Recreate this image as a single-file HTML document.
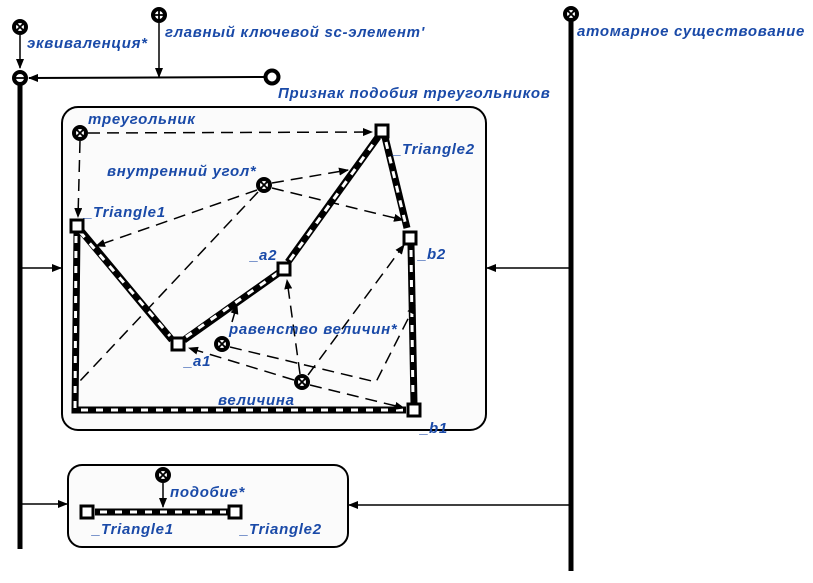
<!DOCTYPE html>
<html><head><meta charset="utf-8"><style>
html,body{margin:0;padding:0;background:#fff}
svg{display:block}
text{font-family:"Liberation Sans",sans-serif;font-style:italic;font-weight:bold;font-size:15px;letter-spacing:0.7px;fill:#1a4aa8}
</style></head><body>
<svg width="813" height="583" viewBox="0 0 813 583" xmlns="http://www.w3.org/2000/svg">
<defs>
<marker id="a" markerWidth="10" markerHeight="8" refX="9" refY="4" orient="auto" markerUnits="userSpaceOnUse"><path d="M0,0L10,4L0,8z" fill="#000"/></marker>
</defs>
<rect x="62" y="107" width="424" height="323" rx="16" fill="#fbfbfb" stroke="#000" stroke-width="2"/>
<rect x="68" y="465" width="280" height="82" rx="14" fill="#fbfbfb" stroke="#000" stroke-width="2"/>
<line x1="20" y1="85" x2="20" y2="549" stroke="#000" stroke-width="5"/>
<line x1="571" y1="20" x2="571" y2="571" stroke="#000" stroke-width="5"/>
<line x1="20" y1="35" x2="20" y2="68" stroke="#000" stroke-width="1.5" marker-end="url(#a)"/>
<line x1="264" y1="77" x2="29" y2="78" stroke="#000" stroke-width="2" marker-end="url(#a)"/>
<line x1="159" y1="23" x2="159" y2="77" stroke="#000" stroke-width="1.5" marker-end="url(#a)"/>
<line x1="22" y1="268" x2="61" y2="268" stroke="#000" stroke-width="1.5" marker-end="url(#a)"/>
<line x1="569" y1="268" x2="487" y2="268" stroke="#000" stroke-width="1.5" marker-end="url(#a)"/>
<line x1="22" y1="504" x2="67" y2="504" stroke="#000" stroke-width="1.5" marker-end="url(#a)"/>
<line x1="569" y1="505" x2="349" y2="505" stroke="#000" stroke-width="1.5" marker-end="url(#a)"/>
<g fill="none" stroke-linecap="butt" stroke-linejoin="miter">
<g stroke="#000" stroke-width="7">
<path d="M77,226 L172,340"/><path d="M184,340 L280,272"/><path d="M288,262 L378,137"/>
<path d="M385,137 L407,228"/><path d="M411,245 L414,404"/><path d="M77,232 L75,410 L406,410"/>
<path d="M95,512 L228,512"/>
</g>
<g stroke="#fff" stroke-width="3" stroke-dasharray="7,8">
<path d="M80,232 L170,336"/><path d="M186,337 L278,273"/><path d="M290,260 L376,140"/>
<path d="M386,142 L406,226"/><path d="M411,250 L413,400"/><path d="M76,236 L75,410 L404,410"/>
<path d="M100,512 L226,512"/>
</g>
</g>
<g fill="none" stroke="#000" stroke-width="1.5" stroke-dasharray="12,7">
<line x1="88" y1="133" x2="372" y2="132" marker-end="url(#a)"/>
<line x1="80" y1="141" x2="78" y2="217" marker-end="url(#a)"/>
<line x1="272" y1="183" x2="348" y2="170" marker-end="url(#a)"/>
<line x1="272" y1="188" x2="403" y2="220" marker-end="url(#a)"/>
<line x1="257" y1="190" x2="96" y2="246" marker-end="url(#a)"/>
<line x1="258" y1="192" x2="80" y2="381"/>
<polyline points="230,347 376,382 415,305" marker-end="url(#a)"/>
<line x1="232" y1="322" x2="237" y2="305" marker-end="url(#a)"/>
<line x1="300" y1="374" x2="287" y2="280" marker-end="url(#a)"/>
<line x1="294" y1="380" x2="189" y2="348" marker-end="url(#a)"/>
<line x1="310" y1="385" x2="404" y2="408" marker-end="url(#a)"/>
<line x1="308" y1="375" x2="404" y2="245" marker-end="url(#a)"/>
</g>
<line x1="163" y1="483" x2="163" y2="507" stroke="#000" stroke-width="1.5" marker-end="url(#a)"/>
<g fill="#fff" stroke="#000" stroke-width="3">
<rect x="71" y="220" width="12" height="12"/><rect x="376" y="125" width="12" height="12"/>
<rect x="404" y="232" width="12" height="12"/><rect x="278" y="263" width="12" height="12"/>
<rect x="172" y="338" width="12" height="12"/><rect x="408" y="404" width="12" height="12"/>
<rect x="81" y="506" width="12" height="12"/><rect x="229" y="506" width="12" height="12"/>
</g>
<g fill="#fff" stroke="#000" stroke-width="4">
<circle cx="20" cy="27" r="6"/><circle cx="159" cy="15" r="6"/><circle cx="20" cy="78" r="6"/>
<circle cx="272" cy="77" r="6.5"/><circle cx="571" cy="14" r="6"/>
<circle cx="80" cy="133" r="6"/><circle cx="264" cy="185" r="6"/><circle cx="222" cy="344" r="6"/>
<circle cx="302" cy="382" r="6"/><circle cx="163" cy="475" r="6"/>
</g>
<g stroke="#000" stroke-width="1.8">
<path d="M16,23l8,8M24,23l-8,8"/><path d="M567,10l8,8M575,10l-8,8"/>
<path d="M76,129l8,8M84,129l-8,8"/><path d="M260,181l8,8M268,181l-8,8"/>
<path d="M218,340l8,8M226,340l-8,8"/><path d="M298,378l8,8M306,378l-8,8"/>
<path d="M159,471l8,8M167,471l-8,8"/>
<path d="M154,15h10M159,10v10"/><path d="M15,78h10"/>
</g>
<text x="27" y="48">эквиваленция*</text>
<text x="165" y="37">главный ключевой sc-элемент'</text>
<text x="577" y="36">атомарное существование</text>
<text x="278" y="98">Признак подобия треугольников</text>
<text x="88" y="124">треугольник</text>
<text x="107" y="176">внутренний угол*</text>
<text x="84" y="217">_Triangle1</text>
<text x="393" y="154">_Triangle2</text>
<text x="250" y="260">_a2</text>
<text x="418" y="259">_b2</text>
<text x="229" y="334">равенство величин*</text>
<text x="184" y="366">_a1</text>
<text x="218" y="405">величина</text>
<text x="420" y="433">_b1</text>
<text x="170" y="497">подобие*</text>
<text x="92" y="534">_Triangle1</text>
<text x="240" y="534">_Triangle2</text>
</svg>
</body></html>
